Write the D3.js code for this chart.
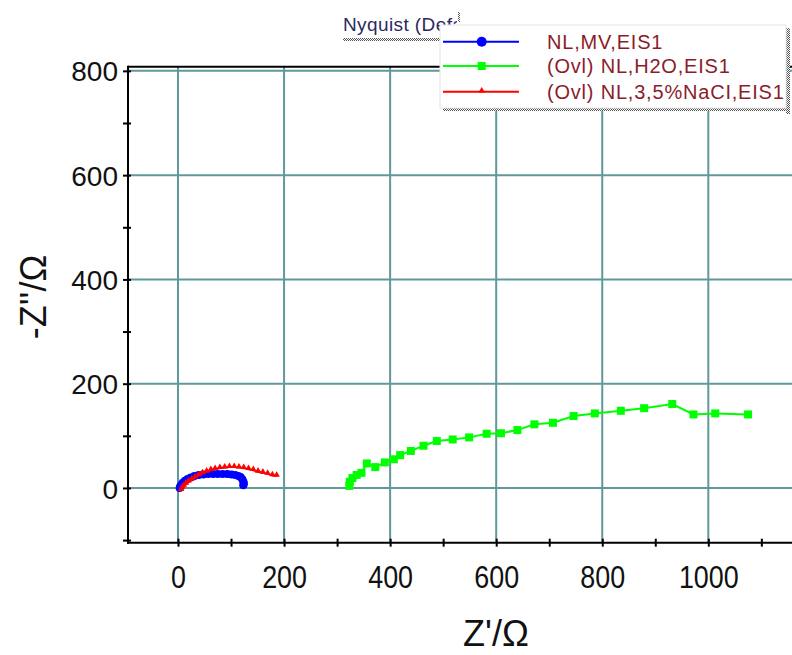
<!DOCTYPE html>
<html>
<head>
<meta charset="utf-8">
<script src="https://cdn.jsdelivr.net/npm/d3@7/dist/d3.min.js"></script>
<style>
  html, body { margin: 0; padding: 0; background: #fff; }
  svg { display: block; }
  text { font-family: Arial, "Liberation Sans", sans-serif; }
</style>
</head>
<body>
<svg id="chart" width="792" height="655"></svg>
<script>
// ---------- data ----------
const seriesNames = ["NL,MV,EIS1", "(Ovl) NL,H2O,EIS1", "(Ovl) NL,3,5%NaCI,EIS1"];

const blueZre = [3, 4, 6, 9, 13, 18, 24, 31, 39, 48, 57, 66, 75, 84, 93, 101, 108, 114, 118, 121, 123, 124, 124, 123];
const blueZim = [0, 3, 6, 10, 14, 17, 20, 23, 25, 26, 27, 27, 27, 27, 27, 26, 25, 23, 21, 17, 13, 10, 7, 5];

const greenZre = [323, 324, 329, 337, 346, 356, 372, 390, 407, 419, 439, 463, 488, 518, 549, 582, 609, 640, 672, 707, 746, 786, 835, 879, 932, 972, 1013, 1075];
const greenZim = [4, 12, 19, 25, 29, 47, 40, 49, 55, 63, 71, 81, 90, 93, 97, 104, 105, 111, 122, 125, 138, 143, 148, 153, 161, 141, 143, 141];

const redZre = [6, 8, 11, 15, 20, 26, 32, 39, 46, 54, 62, 70, 79, 88, 97, 106, 115, 124, 133, 142, 151, 160, 169, 178, 186];
const redZim = [-4, 0, 4, 8, 12, 16, 20, 24, 28, 31, 34, 36, 38, 39, 40, 40, 39, 38, 36, 34, 31, 29, 27, 24, 23];

const xMajorTicks = [0, 200, 400, 600, 800, 1000];
const xMinorTicks = [100, 300, 500, 700, 900, 1100];
const yMajorTicks = [0, 200, 400, 600, 800];
const yMinorTicks = [-100, 100, 300, 500, 700];

const xTitle = "Z'/\u03A9";
const yTitle = "-Z''/\u03A9";
const chartTitle = "Nyquist (Default)";

// ---------- layout ----------
const svg = d3.select("#chart");
const L = 128, R = 814, T = 66.7, B = 542.7;
const x = d3.scaleLinear().domain([-94.3, 1199.3]).range([L, R]);
const y = d3.scaleLinear().domain([-105, 808]).range([B, T]);

const gridColor = "#5f9999";

// grid
const grid = svg.append("g");
grid.selectAll("line.vx").data(xMajorTicks).join("line")
  .attr("x1", d => x(d)).attr("x2", d => x(d)).attr("y1", T).attr("y2", B)
  .attr("stroke", gridColor).attr("stroke-width", 2);
grid.selectAll("line.hy").data(yMajorTicks).join("line")
  .attr("x1", L).attr("x2", R).attr("y1", d => y(d)).attr("y2", d => y(d))
  .attr("stroke", gridColor).attr("stroke-width", 2);

// frame: top border
svg.append("line").attr("x1", L).attr("x2", R).attr("y1", T).attr("y2", T)
  .attr("stroke", "#000").attr("stroke-width", 2);

// x axis tick marks
const xTicksG = svg.append("g").attr("transform", `translate(0,${B})`)
  .call(d3.axisBottom(x).tickValues(xMajorTicks.concat(xMinorTicks)).tickSize(4).tickFormat(""));
xTicksG.select(".domain").remove();
xTicksG.selectAll(".tick line").attr("y1", -4).attr("y2", 4).attr("stroke", "#000").attr("stroke-width", 2);
svg.append("line").attr("x1", L - 1).attr("x2", R).attr("y1", B).attr("y2", B)
  .attr("stroke", "#000").attr("stroke-width", 2);

// x labels
const xLab = svg.append("g").attr("transform", `translate(0,${B})`)
  .call(d3.axisBottom(x).tickValues(xMajorTicks).tickSize(0).tickFormat(d3.format("d")));
xLab.select(".domain").remove();
xLab.selectAll("text")
  .attr("font-family", "Arial, 'Liberation Sans', sans-serif")
  .attr("font-size", 28).attr("fill", "#111")
  .attr("y", 45 / 1.13).attr("dy", 0)
  .attr("transform", "scale(0.96,1.13)");

// y axis tick marks
const yTicksG = svg.append("g").attr("transform", `translate(${L},0)`)
  .call(d3.axisLeft(y).tickValues(yMajorTicks.concat(yMinorTicks)).tickSize(4).tickFormat(""));
yTicksG.select(".domain").remove();
yTicksG.selectAll(".tick line").attr("x1", -5).attr("x2", 3).attr("stroke", "#000").attr("stroke-width", 2);
svg.append("line").attr("x1", L).attr("x2", L).attr("y1", T - 1).attr("y2", B + 1)
  .attr("stroke", "#000").attr("stroke-width", 2);

// y labels
const yLab = svg.append("g").attr("transform", `translate(${L},0)`)
  .call(d3.axisLeft(y).tickValues(yMajorTicks).tickSize(0).tickFormat(d3.format("d")));
yLab.select(".domain").remove();
yLab.selectAll("text")
  .attr("font-family", "Arial, 'Liberation Sans', sans-serif")
  .attr("font-size", 28).attr("fill", "#111")
  .attr("x", -10).attr("dy", "0.36em");

// axis titles
svg.append("text").attr("x", 496).attr("y", 646).attr("text-anchor", "middle")
  .attr("font-size", 36).attr("fill", "#111").text(xTitle);
svg.append("text").attr("transform", "translate(46,297) rotate(-90)").attr("text-anchor", "middle")
  .attr("font-size", 36).attr("fill", "#111").text(yTitle);

// ---------- series ----------
function zip(a, b) { return a.map((v, i) => [v, b[i]]); }
const line = d3.line().x(d => x(d[0])).y(d => y(d[1]));
const plot = svg.append("g");

const blue = zip(blueZre, blueZim);
const green = zip(greenZre, greenZim);
const red = zip(redZre, redZim);

plot.append("path").datum(blue).attr("d", line).attr("fill", "none").attr("stroke", "#0000ff").attr("stroke-width", 2);
plot.selectAll("circle.b").data(blue).join("circle")
  .attr("cx", d => x(d[0])).attr("cy", d => y(d[1])).attr("r", 4).attr("fill", "#0000ff");

plot.append("path").datum(green).attr("d", line).attr("fill", "none").attr("stroke", "#00ff00").attr("stroke-width", 2);
plot.selectAll("rect.g").data(green).join("rect")
  .attr("x", d => x(d[0]) - 4).attr("y", d => y(d[1]) - 4).attr("width", 8).attr("height", 8).attr("fill", "#00ff00");

plot.append("path").datum(red).attr("d", line).attr("fill", "none").attr("stroke", "#ff0000").attr("stroke-width", 2);
const tri = d3.symbol().type(d3.symbolTriangle).size(18);
plot.selectAll("path.r").data(red).join("path")
  .attr("d", tri).attr("transform", d => `translate(${x(d[0])},${y(d[1]) - 1})`).attr("fill", "#ff0000");

// ---------- title ----------
const defs = svg.append("defs");
const pat = defs.append("pattern").attr("id", "dots").attr("width", 2).attr("height", 2)
  .attr("patternUnits", "userSpaceOnUse");
pat.append("rect").attr("width", 2).attr("height", 2).attr("fill", "#fff");
pat.append("rect").attr("width", 1).attr("height", 1).attr("fill", "#555");
pat.append("rect").attr("x", 1).attr("y", 1).attr("width", 1).attr("height", 1).attr("fill", "#555");
defs.append("clipPath").attr("id", "titleClip")
  .append("rect").attr("x", 330).attr("y", 0).attr("width", 127).attr("height", 50);

svg.append("g").attr("clip-path", "url(#titleClip)")
  .append("text").attr("x", 343).attr("y", 31).attr("font-size", 19).attr("letter-spacing", 0.4)
  .attr("fill", "#2a2a5e").text(chartTitle);
svg.append("rect").attr("x", 343).attr("y", 38).attr("width", 100).attr("height", 3).attr("fill", "url(#dots)");
svg.append("rect").attr("x", 458).attr("y", 12).attr("width", 2).attr("height", 10).attr("fill", "url(#dots)");

// ---------- legend ----------
const lg = svg.append("g");
const lx = 440, ly = 25, lw = 346, lh = 83;
lg.append("rect").attr("x", lx + 3).attr("y", ly + lh).attr("width", lw + 1).attr("height", 3).attr("fill", "url(#dots)");
lg.append("rect").attr("x", lx + lw).attr("y", ly + 3).attr("width", 4).attr("height", lh + 3).attr("fill", "url(#dots)");
lg.append("rect").attr("x", lx).attr("y", ly).attr("width", lw).attr("height", lh)
  .attr("fill", "#fff").attr("stroke", "#e4e4e4").attr("stroke-width", 1);

const rowsY = [41.7, 66, 91.7];
const colors = ["#0000ff", "#00ff00", "#ff0000"];
seriesNames.forEach((name, i) => {
  const cy = rowsY[i];
  lg.append("line").attr("x1", 443).attr("x2", 519).attr("y1", cy).attr("y2", cy)
    .attr("stroke", colors[i]).attr("stroke-width", 2);
  if (i === 0) lg.append("circle").attr("cx", 481.7).attr("cy", cy).attr("r", 5).attr("fill", colors[i]);
  if (i === 1) lg.append("rect").attr("x", 477.7).attr("y", cy - 4).attr("width", 8).attr("height", 8).attr("fill", colors[i]);
  if (i === 2) lg.append("path").attr("d", tri).attr("transform", `translate(481.7,${cy - 1})`).attr("fill", colors[i]);
  lg.append("text").attr("x", 547).attr("y", cy).attr("dy", "0.36em")
    .attr("font-size", 20).attr("letter-spacing", 0.8).attr("fill", "#8b1c2c").text(name);
});
</script>
</body>
</html>
